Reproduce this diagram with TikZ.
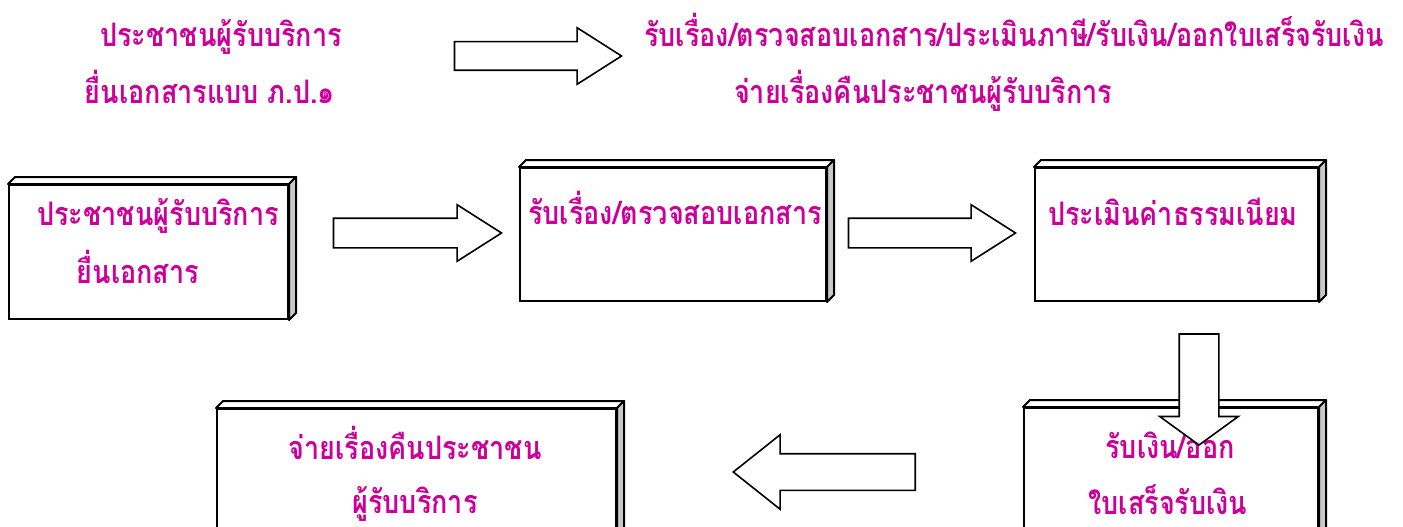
\documentclass[tikz,border=0pt]{standalone}
\usepackage{fontspec}
\newfontfamily\thaifont[Script=Thai]{Loma}
\usetikzlibrary{shapes.arrows}

\definecolor{thaipink}{RGB}{204,0,153}
\definecolor{sidegray}{RGB}{200,200,200}

\tikzset{
    stepbox/.style={draw, line width=2pt, fill=white, inner sep=0pt, anchor=north west},
    thaitext/.style={text=thaipink, anchor=base, inner sep=0pt, yscale=1.2, transform shape, font=\thaifont\bfseries\fontsize{27}{30}\selectfont},
    blockarrow/.style={single arrow, draw, line width=1.6pt, fill=white, inner xsep=0pt, anchor=tip}
}

\begin{document}
\begin{tikzpicture}[x=1pt, y=-1pt]
    \newcommand{\depth}{7}
    \clip (0, 0) rectangle (1403, 527);
    \fill[white] (0, 0) rectangle (1403, 527);

    % top line
    \node[thaitext] (headA) at (221, 47) {ประชาชนผู้รับบริการ};
    \node[thaitext] (headB) at (210, 103) {ยื่นเอกสารแบบ ภ.ป.๑};
    \node[thaitext] (headC) at (1014, 47) {รับเรื่อง/ตรวจสอบเอกสาร/ประเมินภาษี/รับเงิน/ออกใบเสร็จรับเงิน};
    \node[thaitext] (headD) at (923, 103) {จ่ายเรื่องคืนประชาชนผู้รับบริการ};
    \node[blockarrow, minimum height=167pt, inner ysep=13.5pt, single arrow head extend=14pt, single arrow tip angle=65] (arrHead) at (623, 56) {};

    % boxes
    \node[stepbox, minimum width=279pt, minimum height=134pt] (submit) at (8, 184) {};
    \node[stepbox, minimum width=306pt, minimum height=133pt] (check) at (519, 167) {};
    \node[stepbox, minimum width=283pt, minimum height=133pt] (assess) at (1034, 167) {};
    \node[stepbox, minimum width=294pt, minimum height=140pt] (receive) at (1023, 407) {};
    \node[stepbox, minimum width=399pt, minimum height=140pt] (giveback) at (216, 408) {};

    \foreach \b in {submit, check, assess, receive, giveback} {
        \draw[line width=2pt, fill=white, line join=round] (\b.north west) -- ++(\depth, -\depth)
            -- ([xshift=\depth pt, yshift=\depth pt]\b.north east) -- (\b.north east) -- cycle;
        \draw[line width=2pt, fill=sidegray, line join=round] (\b.north east) -- ++(\depth, -\depth)
            -- ([xshift=\depth pt, yshift=\depth pt]\b.south east) -- (\b.south east) -- cycle;
    }

    \node[thaitext] (submitA) at (158, 225) {ประชาชนผู้รับบริการ};
    \node[thaitext] (submitB) at (138, 283) {ยื่นเอกสาร};
    \node[thaitext] (checkA) at (675, 224) {รับเรื่อง/ตรวจสอบเอกสาร};
    \node[thaitext] (assessA) at (1173, 225) {ประเมินค่าธรรมเนียม};
    \node[thaitext] (receiveA) at (1170, 458) {รับเงิน/ออก};
    \node[thaitext] (receiveB) at (1168, 514) {ใบเสร็จรับเงิน};
    \node[thaitext] (givebackA) at (415, 459) {จ่ายเรื่องคืนประชาชน};
    \node[thaitext] (givebackB) at (415, 513) {ผู้รับบริการ};

    % arrows between the boxes
    \node[blockarrow, minimum height=168pt, inner ysep=14pt, single arrow head extend=13.5pt, single arrow tip angle=65] (arrCheck) at (503, 233) {};
    \node[blockarrow, minimum height=167pt, inner ysep=14pt, single arrow head extend=13.5pt, single arrow tip angle=65] (arrAssess) at (1017, 233) {};
    \node[blockarrow, rotate=-90, minimum height=111pt, inner ysep=19pt, single arrow head extend=19.5pt, single arrow tip angle=108] (arrReceive) at (1199, 446) {};
    \node[blockarrow, rotate=180, minimum height=182pt, inner ysep=17.5pt, single arrow head extend=19pt, single arrow tip angle=77] (arrGiveback) at (732, 472) {};
\end{tikzpicture}
\end{document}
